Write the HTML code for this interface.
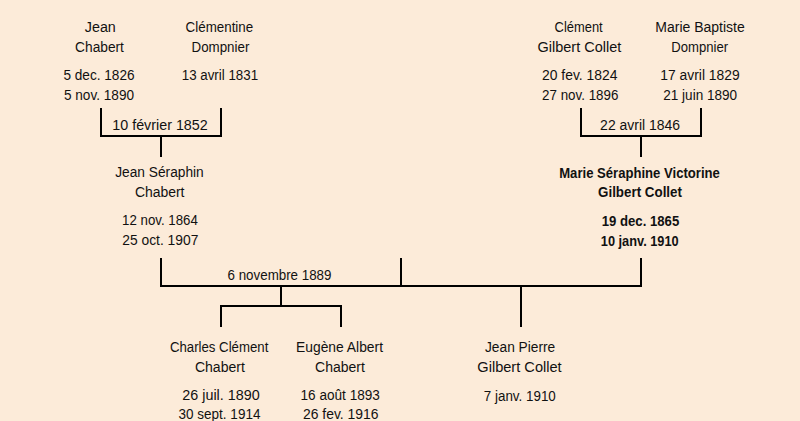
<!DOCTYPE html><html><head><meta charset="utf-8"><style>
html,body{margin:0;padding:0;}
body{width:800px;height:421px;background:#FCEBD9;position:relative;overflow:hidden;font-family:"Liberation Sans",sans-serif;font-size:14px;color:#111;}
.t{position:absolute;white-space:nowrap;line-height:20px;height:20px;transform-origin:50% 50%;}
.b{font-weight:bold;}
.l{position:absolute;background:#000;}
</style></head><body>
<div class="t" id="t0" style="left:100px;top:17.05px;transform:translateX(-50%) translateX(0.31px) scaleX(1.0220)">Jean</div>
<div class="t" id="t1" style="left:100px;top:36.85px;transform:translateX(-50%) translateX(-0.49px) scaleX(0.9797)">Chabert</div>
<div class="t" id="t2" style="left:100px;top:64.65px;transform:translateX(-50%) translateX(-1.00px) scaleX(0.9723)">5 dec. 1826</div>
<div class="t" id="t3" style="left:100px;top:84.65px;transform:translateX(-50%) translateX(-0.99px) scaleX(0.9719)">5 nov. 1890</div>
<div class="t" id="t4" style="left:220px;top:17.05px;transform:translateX(-50%) translateX(-0.60px) scaleX(0.9543)">Clémentine</div>
<div class="t" id="t5" style="left:220px;top:36.85px;transform:translateX(-50%) translateX(0.42px) scaleX(0.9526)">Dompnier</div>
<div class="t" id="t6" style="left:220px;top:64.65px;transform:translateX(-50%) translateX(-0.08px) scaleX(0.9519)">13 avril 1831</div>
<div class="t" id="t7" style="left:160px;top:115.15px;transform:translateX(-50%) translateX(-0.00px) scaleX(1.0217)">10 février 1852</div>
<div class="t" id="t8" style="left:580px;top:17.05px;transform:translateX(-50%) translateX(-1.36px) scaleX(0.9220)">Clément</div>
<div class="t" id="t9" style="left:580px;top:36.85px;transform:translateX(-50%) translateX(-0.62px) scaleX(1.0346)">Gilbert Collet</div>
<div class="t" id="t10" style="left:580px;top:64.65px;transform:translateX(-50%) translateX(-0.30px) scaleX(0.9920)">20 fev. 1824</div>
<div class="t" id="t11" style="left:580px;top:84.65px;transform:translateX(-50%) translateX(0.23px) scaleX(0.9545)">27 nov. 1896</div>
<div class="t" id="t12" style="left:700px;top:17.05px;transform:translateX(-50%) translateX(0.01px) scaleX(1.0001)">Marie Baptiste</div>
<div class="t" id="t13" style="left:700px;top:36.85px;transform:translateX(-50%) translateX(-0.27px) scaleX(0.9358)">Dompnier</div>
<div class="t" id="t14" style="left:700px;top:64.65px;transform:translateX(-50%) translateX(0.01px) scaleX(0.9899)">17 avril 1829</div>
<div class="t" id="t15" style="left:700px;top:84.65px;transform:translateX(-50%) translateX(0.20px) scaleX(0.9684)">21 juin 1890</div>
<div class="t" id="t16" style="left:640px;top:115.15px;transform:translateX(-50%) translateX(0.10px) scaleX(0.9975)">22 avril 1846</div>
<div class="t" id="t17" style="left:160px;top:162.45px;transform:translateX(-50%) translateX(-0.51px) scaleX(0.9799)">Jean Séraphin</div>
<div class="t" id="t18" style="left:160px;top:182.25px;transform:translateX(-50%) translateX(-0.30px) scaleX(0.9959)">Chabert</div>
<div class="t" id="t19" style="left:160px;top:209.95px;transform:translateX(-50%) translateX(-0.07px) scaleX(0.9469)">12 nov. 1864</div>
<div class="t" id="t20" style="left:160px;top:229.95px;transform:translateX(-50%) translateX(0.30px) scaleX(0.9869)">25 oct. 1907</div>
<div class="t b" id="t21" style="left:640px;top:162.85px;transform:translateX(-50%) translateX(-0.47px) scaleX(0.9357)">Marie Séraphine Victorine</div>
<div class="t b" id="t22" style="left:640px;top:182.15px;transform:translateX(-50%) translateX(0.00px) scaleX(0.9545)">Gilbert Collet</div>
<div class="t b" id="t23" style="left:640px;top:211.05px;transform:translateX(-50%) translateX(0.50px) scaleX(0.9390)">19 dec. 1865</div>
<div class="t b" id="t24" style="left:640px;top:231.05px;transform:translateX(-50%) translateX(-0.26px) scaleX(0.9130)">10 janv. 1910</div>
<div class="t" id="t25" style="left:280px;top:265.15px;transform:translateX(-50%) translateX(-0.50px) scaleX(0.9537)">6 novembre 1889</div>
<div class="t" id="t26" style="left:220px;top:336.75px;transform:translateX(-50%) translateX(-0.90px) scaleX(0.9442)">Charles Clément</div>
<div class="t" id="t27" style="left:220px;top:356.55px;transform:translateX(-50%) translateX(-0.10px) scaleX(1.0041)">Chabert</div>
<div class="t" id="t28" style="left:220px;top:384.65px;transform:translateX(-50%) translateX(0.99px) scaleX(1.0267)">26 juil. 1890</div>
<div class="t" id="t29" style="left:220px;top:404.45px;transform:translateX(-50%) translateX(-0.50px) scaleX(0.9643)">30 sept. 1914</div>
<div class="t" id="t30" style="left:340px;top:336.75px;transform:translateX(-50%) translateX(-0.49px) scaleX(0.9886)">Eugène Albert</div>
<div class="t" id="t31" style="left:340px;top:356.55px;transform:translateX(-50%) translateX(-0.00px) scaleX(1.0001)">Chabert</div>
<div class="t" id="t32" style="left:340px;top:384.65px;transform:translateX(-50%) translateX(0.20px) scaleX(0.9700)">16 août 1893</div>
<div class="t" id="t33" style="left:340px;top:404.45px;transform:translateX(-50%) translateX(0.71px) scaleX(0.9920)">26 fev. 1916</div>
<div class="t" id="t34" style="left:520px;top:336.75px;transform:translateX(-50%) translateX(0.09px) scaleX(0.9803)">Jean Pierre</div>
<div class="t" id="t35" style="left:520px;top:356.55px;transform:translateX(-50%) translateX(-0.52px) scaleX(1.0422)">Gilbert Collet</div>
<div class="t" id="t36" style="left:520px;top:385.55px;transform:translateX(-50%) translateX(-0.20px) scaleX(0.9568)">7 janv. 1910</div>
<div class="l" style="left:100px;top:108px;width:2px;height:29px"></div>
<div class="l" style="left:220px;top:108px;width:2px;height:29px"></div>
<div class="l" style="left:100px;top:135px;width:122px;height:2px"></div>
<div class="l" style="left:160px;top:137px;width:2px;height:20px"></div>
<div class="l" style="left:580px;top:108px;width:2px;height:29px"></div>
<div class="l" style="left:700px;top:108px;width:2px;height:29px"></div>
<div class="l" style="left:580px;top:135px;width:122px;height:2px"></div>
<div class="l" style="left:640px;top:137px;width:2px;height:20px"></div>
<div class="l" style="left:160px;top:258px;width:2px;height:29px"></div>
<div class="l" style="left:400px;top:258px;width:2px;height:29px"></div>
<div class="l" style="left:640px;top:258px;width:2px;height:29px"></div>
<div class="l" style="left:160px;top:285px;width:482px;height:2px"></div>
<div class="l" style="left:280px;top:287px;width:2px;height:18px"></div>
<div class="l" style="left:520px;top:287px;width:2px;height:40px"></div>
<div class="l" style="left:220px;top:305px;width:122px;height:2px"></div>
<div class="l" style="left:220px;top:307px;width:2px;height:20px"></div>
<div class="l" style="left:340px;top:307px;width:2px;height:20px"></div>
</body></html>
